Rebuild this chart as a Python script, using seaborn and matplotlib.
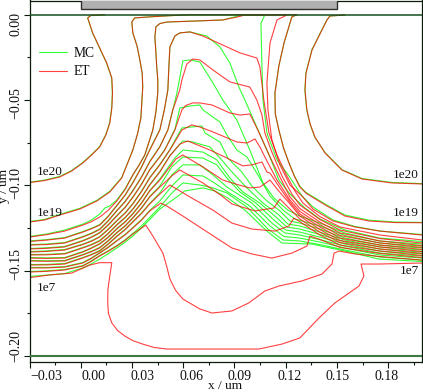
import numpy as np
import matplotlib
matplotlib.use("Agg")
import matplotlib.pyplot as plt
import matplotlib.transforms as mtrans
from matplotlib.patches import Rectangle
import seaborn as sns

# iso-concentration contours: lateral position and depth, both in nm
et_x_1e20a = [-30.2,-21.1,-12.3,-5.3,1.2,6.4,11.1,14.7,17,18.2,18.6,18.2,15.2,11.1,7,4.1,5.9,14.1]
et_d_1e20a = [98.4,97.2,95.1,91.6,86.9,82.2,77.5,70.5,63.5,54.7,45.9,37.1,28.3,19.5,10.7,1.9,.5,0]
et_x_1e20b = [154.7,145.9,144.2,141.2,135.4,131.9,131.3,132.4,134.3,137.1,143,152.9,164.7,182.2,199.8]
et_d_1e20b = [.2,.8,3.1,9,20.7,34.2,44.1,55.8,64,71.7,81,91,96.3,98.6,99.2]
et_x_1e19 = [-30.2,-21.1,-12.3,-.6,9.4,17,24,30.5,33.2,35.2,36.3,36,34.6,33,30.5,29.9,31.6,40.4,52.2,63.9,126.6,123.6,119,116,113.7,113.9,116,118.7,121.9,125,128.3,131.8,135.4,144.2,154.7,168.8,184,199.8]
et_d_1e19 = [121.5,120.3,117.4,113.9,109.2,103.9,95.7,79.3,70,60.5,42.4,34.5,26.5,18.5,10.7,4.3,1.9,1.3,.6,0,0,1.3,16.6,30,45.9,58,67.6,78,86.9,94.5,101,104.5,106.8,112.1,118,120.9,121.8,121.9]
et_x_1e18 = [-30.2,-20,-9.4,1.2,6,11.1,16,21.1,26,30.5,34,37.5,42.2,44,45.1,45.1,44.5,44,43.4,44,46.3,50.4,68,83.2,92,96.1,120.7,114.9,110.8,109,109.6,111.9,116.6,122.5,129.5,136,147.7,160.6,175.2,199.8]
et_d_1e18 = [130.3,128.9,126.8,123.3,121.4,118.6,114.7,109.2,102.4,93.9,88.4,82.2,67.6,57,45.9,38,30.6,22,13.1,7.2,5.2,4.3,3.7,3.1,1.3,.2,.2,3.1,16.6,40,55.8,73.4,88,99.8,106.2,113.9,120.9,124.4,126.8,129.1]
et_x_1e17 = [-30.2,-20,-9.4,1.2,6,11.1,16,21.1,26,30.5,35.5,40.4,46.3,49,51,51.6,52.2,55.1,58,63.9,71.5,83.2,93.2,103.1,104.9,107.2,110.2,114.9,120.7,125.4,130.1,140,151.8,175.2,199.8]
et_d_1e17 = [132.9,132.1,130.9,127.4,125.6,123.3,118.4,112,105.8,98.6,89.6,79.3,67.6,55.5,44.1,30.6,18.9,12.5,10.7,10.1,12.5,17.8,22.4,25.4,30.6,50,69.3,82.2,94.5,103.3,110.4,118.3,124.4,129.1,132]
et_x_1e16 = [-30.2,-20,-9.4,1.2,6,11.1,16,21.1,26,30.5,35.5,40.4,46.3,51,53.9,58,59.2,62.1,65.6,69.7,77.4,87.3,99,103.1,106.1,107.8,111.9,117.8,123.6,128.3,140,151.8,175.2,199.8]
et_d_1e16 = [135,134.7,133.8,130.3,128.4,125.9,121,115,109.6,103.3,95.4,86.3,77.5,67.6,55.8,44.1,38.3,28.9,26,26.5,32.4,39.4,42.4,50,58.8,69.3,80.5,94.5,105.1,111.5,120,126.2,131.2,133.8]
et_x_1e15 = [-30.2,-20,-9.4,1.2,6,11.1,16,21.1,26,30.5,35.5,40.4,46.3,49.2,55.1,59.2,61.5,65.6,69.7,76.8,87.3,93.2,99,103.7,110.8,116.6,122.5,128.3,140,151.8,175.2,199.8]
et_d_1e15 = [137.3,136.9,136.1,132.6,130.6,127.9,123.4,118,113,107.1,99.6,91,83.4,79.3,67.6,55.8,53.2,51.7,51.7,52.9,57.6,58.8,58.2,67.6,83.4,95.1,106.8,113.6,121.5,127.9,132.6,135.3]
et_x_1e14 = [-30.2,-20,-9.4,1.2,6,11.1,16,21.1,26,30.5,35.5,40.4,46.3,52.2,59.2,65,69.7,77.4,91.4,97.3,102,104.9,107.8,114.9,122.5,128.3,140,151.8,175.2,199.8]
et_d_1e14 = [139.1,138.7,137.9,134.7,132.9,130.3,126,120.9,116.3,110.9,103.8,95.7,88,79.3,67.6,64.6,65.8,68.7,74.6,75.2,72.8,77.5,83.4,96.9,108.6,115.3,123,129.4,133.8,136.4]
et_x_1e13 = [-30.2,-20,-9.4,1.2,6,11.1,16,21.1,26,30.5,35.5,40.4,46.3,52.2,58,62.7,75.6,84.4,94.9,100.2,106.1,109,110.8,116.6,122.5,128.3,140,151.8,175.2,199.8]
et_d_1e13 = [140.8,140.7,140.2,136.7,135,132.6,128.4,123.3,119,114.1,107.4,99.8,92.2,82.8,75.8,74,79.3,83.4,88.6,88,86.3,92.2,92.8,101.5,109.8,116.8,124.4,130.9,135,137.6]
et_x_1e12 = [-30.2,-20,-9.4,1.2,6,11.1,16,21.1,26,30.5,35.5,40.4,46.3,55.7,59.8,71.5,83.2,92.6,99,104.9,110.8,115.4,122.5,128.3,140,151.8,175.2,199.8]
et_d_1e12 = [142.6,142.8,142.6,139.1,137,134.4,130.6,125.6,121.5,116.8,110.6,103.3,96.9,84.6,82.2,89.2,96.9,99.8,101.5,101,96.9,102.7,110.9,118,125.9,132.3,136.1,138.8]
et_x_1e11 = [-30.2,-20,-9.4,1.2,6,11.1,16,21.1,26,30.5,35.5,40.4,46.3,53.3,58,71.5,82.6,88.5,102,109,113.1,116.6,120.7,128.3,140,151.8,175.2,199.8]
et_d_1e11 = [144.3,144.5,144.3,140.8,139,136.7,132.7,127.9,123.9,119.2,113.5,106.8,101,94.5,91,98.6,106.2,110.9,115,113.9,113.3,108,112.1,119.7,127.4,133.5,137.3,139.9]
et_x_1e10 = [-30.2,-20,-9.4,1.2,6,11.1,16,21.1,26,30.5,35.5,40.4,46.3,52.2,63.9,77.4,88.5,100.2,113.7,121.9,124.8,127.7,140,151.8,175.2,199.8]
et_d_1e10 = [146.7,146.6,146.1,142.6,140.8,138.5,134.6,130,126,121.5,116.6,110.9,105.1,99.8,106.8,114.5,122.1,125.6,126.8,123.8,119.2,120.9,129.1,135,138.5,141.1]
et_x_1e9 = [-30.2,-20,-9.4,1.2,6,11.1,16,21.1,26,30.5,35.5,40.4,46.9,50.4,59.8,76.8,88.5,100.2,111.9,123.6,132.4,134.2,139.5,151.8,175.2,199.8]
et_d_1e9 = [148.4,148.4,147.9,145.5,143,139.7,136.5,132.6,129,125,120.5,115,110.4,112.1,118,129.1,136.7,140.2,142.6,139.7,135.6,129.7,131.5,136.4,139.9,142.3]
et_x_1e8 = [-30.2,-20,-9.4,1.2,6,11.1,16,21.1,26,30.5,38.1,42.2,48.1,50.2,52.2,55.5,59.8,69.7,76.8,88.5,98.4,107.8,116,129.5,141.2,147.1,148.3,151.2,160.6,175.2,199.8]
et_d_1e8 = [150.8,150.4,149.6,147.3,144.7,141.4,138.7,135.6,132.2,128.5,123.3,129.7,139.7,147,154.9,161.5,166.6,172.4,174.8,173.6,168.9,161.9,159,156,152,146.1,139.7,138.5,140.2,141.7,143.8]
et_x_1e7 = [-30.2,-18.2,-5.3,5.3,11.1,18.2,17,15.9,15.8,16.2,18.2,21.5,25.8,30.5,36.3,43,50.4,76.8,104.3,117.8,128.3,139.5,148.8,162.9,165.8,164.1,174.6,199.8]
et_d_1e7 = [154.1,152.5,151.4,146.7,145.3,145.3,153.1,161,168.9,175,180.6,185,188.3,191,193,195,195.9,195.9,195.9,193,189.4,177.7,168.9,159,153.1,146.1,146.1,145.5]

mc_x_1e20a = [-30.2,-21.1,-12.4,-5.4,1.1,6.3,11,14.6,16.9,18.1,18.5,18.1,15.1,11,6.9,4,5.9,14.1]
mc_d_1e20a = [98.2,96.9,94.8,91.4,86.7,82,77.4,70.5,63.5,54.7,45.9,37.1,28.3,19.5,10.7,1.9,.5,0]
mc_x_1e20b = [154.7,145.9,144.1,141.1,135.3,131.8,131.2,132.3,134.2,137,143,152.9,164.7,182.2,199.8]
mc_d_1e20b = [.2,.8,3.1,9,20.7,34.2,44.1,55.8,64,71.7,80.8,90.8,96,98.3,99]
mc_x_1e19 = [-30.2,-21.1,-12.3,-.6,9.4,17,24,30.5,33.2,35.2,36.3,36,34.6,33,30.5,29.9,31.6,40.4,52.2,63.9,126.6,123.6,119,116,113.7,113.9,116,118.7,121.9,125,128.3,131.8,135.4,144.2,154.7,168.8,184,199.8]
mc_d_1e19 = [121.2,120,117,113.5,108.8,103.5,95.4,79.3,70,60.5,42.4,34.5,26.5,18.5,10.7,4.3,1.9,1.3,.6,0,0,1.3,16.6,30,45.9,58,67.6,78,86.7,94.2,100.6,104.1,106.3,111.6,117.4,120.4,121.5,121.7]
mc_x_1e18 = [-30.2,-20,-9.4,1.2,6,11.1,14.1,17,21.1,26,30.5,34,37.5,42.2,44,45.1,45.1,44.5,44,43.4,44,46.3,50.4,68,83.2,92,94.9,107.8,105.5,106.1,106.7,109,114.9,121.9,129.5,136,147.7,160.6,175.2,199.8]
mc_d_1e18 = [130,128.5,126.2,122.7,120.5,116.8,113.3,112.1,108.6,102,93.9,88.4,82.2,67.6,57,45.9,38,30.6,22,13.1,7.2,5.2,4.3,3.7,3.1,.8,.2,.2,4.9,30.6,50,69.3,85.1,94.5,106.2,112.7,120.3,124.1,126.8,128.8]
mc_x_1e17 = [-30.2,-20,-9.4,1.2,6,11.1,16,21.1,26,30.5,35.5,40.4,46.3,49,51,51.6,52.2,55.1,58,63.9,73.8,81.5,87.3,92.6,96.1,102,110.8,116,122.5,131.3,140,154.7,175.2,199.8]
mc_d_1e17 = [132.6,131.8,130.6,127.1,125.3,123,118.1,111.7,105.5,98.3,89.3,79,67.4,55.5,44.1,30.6,18.9,12.5,10.7,10.1,12.5,18.9,28.3,42.4,50,63.5,83.4,96.9,105.1,113.3,119.7,126.2,130.9,132.9]
mc_x_1e16 = [-30.2,-20,-9.4,1.2,6,11.1,16,21.1,26,30.5,35.5,40.4,46.3,51,53.9,56.3,59.8,63.9,69.7,77.4,83.2,91.4,99,106.7,113.1,121.3,128.3,140,154.7,175.2,199.8]
mc_d_1e16 = [134.7,134.4,133.5,130,128.1,125.6,120.7,114.7,109.3,103,95.1,86,77.2,67.6,55.8,45.9,27.1,26.5,27.7,40,50,61.7,79.3,98.6,107.4,114.5,118,122.1,127.9,132.6,134.4]
mc_x_1e15 = [-30.2,-20,-9.4,1.2,6,11.1,16,21.1,26,30.5,35.5,40.4,46.3,49.2,55.1,58,63.9,69.7,71.5,81.5,85.6,91.4,97.3,103.1,110.8,118.4,125.4,140,154.7,175.2,199.8]
mc_d_1e15 = [137,136.6,135.8,132.3,130.3,127.6,123.1,117.7,112.7,106.8,99.3,90.7,83.1,79,67.3,54.7,53.5,52.9,55.8,62.9,70.5,79.3,83.4,92.8,106.2,114.5,119.7,123.8,129.4,133.8,135.6]
mc_x_1e14 = [-30.2,-20,-9.4,1.2,6,11.1,16,21.1,26,30.5,35.5,40.4,46.3,52.2,59.2,70.9,72.7,81.5,86.1,94.3,100.2,108.4,116.6,122.5,128.3,140,154.7,175.2,199.8]
mc_d_1e14 = [138.8,138.4,137.6,134.4,132.6,130,125.7,120.6,116,110.6,103.5,95.4,87.7,79,66.4,65.2,69.3,74.6,84,92.2,100.4,108.6,115,120.9,122.1,125.6,130.9,135,136.7]
mc_x_1e13 = [-30.2,-20,-9.4,1.2,6,11.1,16,21.1,26,30.5,35.5,40.4,46.3,52.2,59.8,65.6,75.6,81.5,89.1,97.3,106.7,115.4,121.3,128.3,140,154.7,175.2,199.8]
mc_d_1e13 = [140.5,140.4,139.9,136.4,134.7,132.3,128.1,123,118.7,113.8,107.1,99.5,91.9,82.5,74,74.6,77.5,84,92.8,101.5,110.4,116.8,122.7,123.8,127.4,132,136.1,137.9]
mc_x_1e12 = [-30.2,-20,-9.4,1.2,6,11.1,16,21.1,26,30.5,35.5,40.4,46.3,55.1,59.8,71.5,79.7,87.3,94.9,104.9,114.3,120.7,128.3,140,154.7,175.2,199.8]
mc_d_1e12 = [142.3,142.5,142.3,138.8,136.7,134.1,130.3,125.3,121.2,116.5,110.3,103,96.3,84,79.3,80.5,85.1,95.7,103.9,110.4,118.6,124.4,125.6,128.8,133.2,137.3,139.1]
mc_x_1e11 = [-30.2,-20,-9.4,1.2,6,11.1,16,21.1,26,30.5,35.5,40.4,46.3,53.3,59.8,71.5,79.7,85.6,93.2,102.6,113.1,120.1,128.3,140,154.7,175.2,199.8]
mc_d_1e11 = [144,144.2,144,140.5,138.7,136.4,132.4,127.6,123.6,118.9,113.2,106.5,100.4,89.2,83.4,84,88,95.7,103.9,110.4,120.3,126.2,127.4,130.3,134.4,138.5,140.2]
mc_x_1e10 = [-30.2,-20,-9.4,1.2,6,11.1,16,21.1,26,30.5,35.5,40.4,46.3,53.3,59.8,69.7,77.4,85.6,100.2,111.9,119.5,128.3,140,154.7,175.2,199.8]
mc_d_1e10 = [146.4,146.3,145.8,142.3,140.5,138.2,134.3,129.7,125.7,121.2,116.3,110.6,104.5,93.9,88,88,93.9,101,110.4,122.1,127.9,129.1,131.8,135.6,139.7,141.4]
mc_x_1e9 = [-30.2,-20,-9.4,1.2,6,11.1,16,21.1,26,30.5,35.5,40.4,46.3,53.3,59.8,71.5,77.4,86.1,99,110.8,119,128.3,140,154.7,175.2,199.8]
mc_d_1e9 = [148.1,148.1,147.6,145.2,142.7,139.4,136.2,132.3,128.7,124.7,120.2,114.7,109.2,100.4,93.9,94.5,98,103.9,112.1,123.8,130,130.9,133.2,136.7,140.8,142.6]
mc_x_1e8 = [-30.2,-20,-9.4,1.2,6,11.1,16,21.1,26,30.5,35.5,40.4,46.3,53.3,59.8,69.7,77.4,85.6,97.3,109.6,118.4,128.3,140,154.7,175.2,199.8]
mc_d_1e8 = [150.5,150.1,149.3,147,144.4,141.1,138.4,135.3,131.9,128.2,123.8,118.8,112.7,104.5,98.6,99.8,101.5,104.5,112.7,125.6,132,132.6,134.7,137.9,142,143.8]
mc_x_1e7 = [-30.2,-20,-9.4,1.2,6,11.1,16,21.1,26,30.5,35.5,40.4,46.3,56.3,60.9,71.5,78.5,86.1,96.1,109,117.8,135.4,154.7,174.6,199.8]
mc_d_1e7 = [153.4,152.6,151.7,148.4,146.1,143.2,140.1,136.7,133.3,129.7,125,120,113.9,106.8,103.3,101.5,103.3,107.4,114.5,126.8,133.8,134.4,138.5,143.2,144.6]

et_curves = [(et_x_1e20a, et_d_1e20a), (et_x_1e20b, et_d_1e20b), (et_x_1e19, et_d_1e19),
             (et_x_1e18, et_d_1e18), (et_x_1e17, et_d_1e17), (et_x_1e16, et_d_1e16),
             (et_x_1e15, et_d_1e15), (et_x_1e14, et_d_1e14), (et_x_1e13, et_d_1e13),
             (et_x_1e12, et_d_1e12), (et_x_1e11, et_d_1e11), (et_x_1e10, et_d_1e10),
             (et_x_1e9, et_d_1e9), (et_x_1e8, et_d_1e8), (et_x_1e7, et_d_1e7)]
mc_curves = [(mc_x_1e20a, mc_d_1e20a), (mc_x_1e20b, mc_d_1e20b), (mc_x_1e19, mc_d_1e19),
             (mc_x_1e18, mc_d_1e18), (mc_x_1e17, mc_d_1e17), (mc_x_1e16, mc_d_1e16),
             (mc_x_1e15, mc_d_1e15), (mc_x_1e14, mc_d_1e14), (mc_x_1e13, mc_d_1e13),
             (mc_x_1e12, mc_d_1e12), (mc_x_1e11, mc_d_1e11), (mc_x_1e10, mc_d_1e10),
             (mc_x_1e9, mc_d_1e9), (mc_x_1e8, mc_d_1e8), (mc_x_1e7, mc_d_1e7)]

x_ticks = [-0.03, 0.00, 0.03, 0.06, 0.09, 0.12, 0.15, 0.18]
x_tick_labels = ["−0.03", "0.00", "0.03", "0.06", "0.09", "0.12", "0.15", "0.18"]
y_ticks = [0.00, -0.05, -0.10, -0.15, -0.20]
y_tick_labels = ["0.00", "−0.05", "−0.10", "−0.15", "−0.20"]

sns.set_theme(style="ticks")
plt.rcParams['font.family'] = ['Liberation Serif', 'DejaVu Serif']
plt.rcParams['text.color'] = '#111111'

GREEN = '#00ff00'
RED = '#ff0000'
INK = '#0c1c0c'

fig = plt.figure(figsize=(4.23, 3.92), dpi=100)
ax = fig.add_axes([29.5/423, 1 - 362/392, (422 - 29.5)/423, (362 - 0.5)/392])

for i, (xs, ds) in enumerate(mc_curves):
    sns.lineplot(x=np.array(xs)/1000, y=-np.array(ds)/1000, sort=False, estimator=None, errorbar=None,
                 color=GREEN, linewidth=0.8, alpha=0.8, ax=ax, label="MC" if i == 0 else None)
for i, (xs, ds) in enumerate(et_curves):
    sns.lineplot(x=np.array(xs)/1000, y=-np.array(ds)/1000, sort=False, estimator=None, errorbar=None,
                 color=RED, linewidth=0.8, alpha=0.75, ax=ax, label="ET" if i == 0 else None)

# surface and substrate lines of the device
ax.axhline(0.0, color='#14501e', linewidth=1.1, zorder=4)
ax.axhline(-0.2, color='#3c7a44', linewidth=1.5, zorder=4)
ax.add_patch(Rectangle((0, 0.0032), 0.15, 0.01, facecolor='#b0b0b0', edgecolor='#30302c', linewidth=1.0, zorder=3))

ax.set_xlim(-0.03, 0.1998)
ax.set_ylim(-0.2035, 0.0083)

ax.set_xticks(x_ticks, x_tick_labels)
ax.set_yticks(y_ticks, y_tick_labels)
ax.set_xticks([-0.015, 0.015, 0.045, 0.075, 0.105, 0.135, 0.165, 0.195], minor=True)
ax.set_yticks([-0.025, -0.075, -0.125, -0.175], minor=True)
ax.tick_params(axis='both', which='major', length=4.6, width=0.8, color=INK, labelsize=10, pad=0.8, labelcolor='#111111')
ax.tick_params(axis='both', which='minor', length=2.2, width=0.8, color=INK)
for lab in ax.get_yticklabels():
    lab.set_rotation(90)
    lab.set_va('center')

for side in ax.spines:
    ax.spines[side].set_visible(True)
    ax.spines[side].set_linewidth(0.9)
    ax.spines[side].set_color(INK)

# the tick labels sit away from their ticks in the original
x_shift = [16.5, 13, 10.8, 8.6, 5.4, 4.2, 0.7, -1.2]
y_shift = [-9.3, -3, 2.3, 6.6, 10]
for lab, dx in zip(ax.get_xticklabels(), x_shift):
    lab.set_transform(lab.get_transform() + mtrans.ScaledTranslation(dx/100, 0, fig.dpi_scale_trans))
for lab, dy in zip(ax.get_yticklabels(), y_shift):
    lab.set_transform(lab.get_transform() + mtrans.ScaledTranslation(0, dy/100, fig.dpi_scale_trans))

for x, y, s, ha in [(-0.0258, -0.0922, "1e20", 'left'), (0.1978, -0.094, "1e20", 'right'),
                    (-0.0258, -0.116, "1e19", 'left'), (0.1978, -0.116, "1e19", 'right'),
                    (-0.0258, -0.16, "1e7", 'left'), (0.1978, -0.1502, "1e7", 'right')]:
    ax.text(x, y, s, ha=ha, va='center', fontsize=9.5)

ax.set_xlabel("")
ax.set_ylabel("")
fig.text(225/423, 1 - 386.2/392, "x / um", ha='center', va='center', fontsize=9.5)
fig.text(4.5/423, 1 - 186/392, "y / um", ha='center', va='center', rotation=90, fontsize=9.5)

handles, labels = ax.get_legend_handles_labels()
ax.legend(handles, labels, loc='upper left', bbox_to_anchor=(39/423, 1 - 47/392), bbox_transform=fig.transFigure,
          frameon=False, fontsize=9.8, borderpad=0, borderaxespad=0, handlelength=2.05, handletextpad=0.5, labelspacing=0.4)

fig.savefig("out.png", dpi=100)
